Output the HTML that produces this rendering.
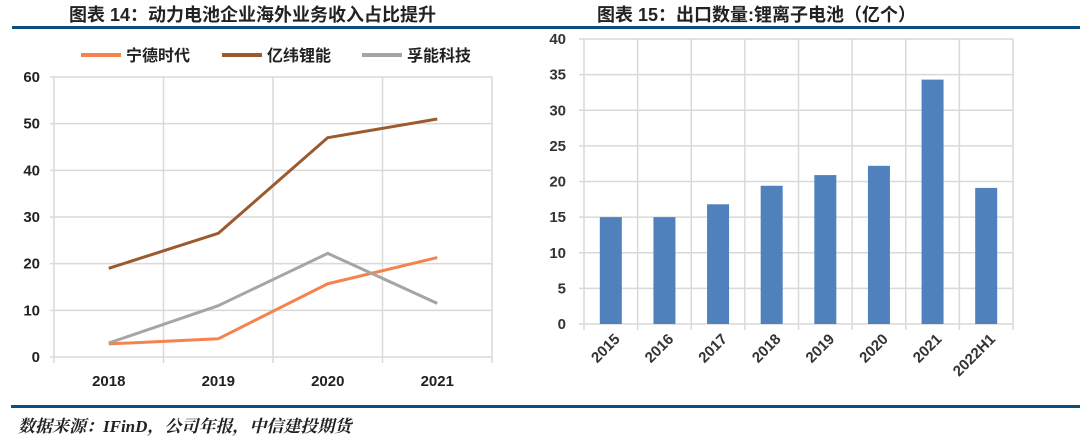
<!DOCTYPE html>
<html><head><meta charset="utf-8"><style>
body{margin:0;background:#fff;}
#root{position:relative;width:1080px;height:436px;overflow:hidden;font-family:"Liberation Sans","Noto Sans CJK SC",sans-serif;}
.t{position:absolute;font-weight:bold;font-size:18px;color:#222;white-space:nowrap;}
</style></head><body>
<div id="root">
<div class="t" style="left:69px;top:1px;">图表 14：动力电池企业海外业务收入占比提升</div>
<div class="t" style="left:597px;top:1px;">图表 15：出口数量:锂离子电池（亿个）</div>
<div style="position:absolute;left:12px;top:26px;width:1068px;height:3px;background:#0b4f7c;"></div>
<div style="position:absolute;left:11px;top:405px;width:1069px;height:3px;background:#0b4f7c;"></div>
<div style="position:absolute;left:18px;top:412px;font-size:17px;font-style:italic;font-weight:bold;color:#222;font-family:'Liberation Serif','Noto Serif CJK SC',serif;">数据来源：IFinD，公司年报，中信建投期货</div>
<svg id="c1" width="540" height="400" style="position:absolute;left:0;top:0;"></svg>
<svg id="c2" width="540" height="400" style="position:absolute;left:540px;top:0;"></svg>
</div>
<script>
const lineCats=["2018","2019","2020","2021"];
const catl=[2.8,3.9,15.7,21.3];
const eve=[19,26.5,47,51];
const farasis=[3,11,22.2,11.5];
const lineTicks=[0,10,20,30,40,50,60];
const seriesNames=["宁德时代","亿纬锂能","孚能科技"];

const barCats=["2015","2016","2017","2018","2019","2020","2021","2022H1"];
const exportVals=[15,15,16.8,19.4,20.9,22.2,34.3,19.1];
const barTicks=[0,5,10,15,20,25,30,35,40];

const NS="http://www.w3.org/2000/svg";
function mk(svg,tag,attrs){const e=document.createElementNS(NS,tag);for(const k in attrs)e.setAttribute(k,attrs[k]);svg.appendChild(e);return e;}

// left chart
(function(){
const svg=document.getElementById('c1');
const x0=54,x1=492,y0=357,yTop=77;
const bw=(x1-x0)/lineCats.length;
const xs=i=>x0+bw*(i+0.5);
const ys=v=>y0-(v/60)*(y0-yTop);
lineTicks.forEach(t=>{
 const g=mk(svg,'line',{x1:x0-4,x2:x1,y1:ys(t),y2:ys(t),stroke:'#d9d9d9','stroke-width':1.5});
 
 
 const l=mk(svg,'text',{x:40,y:ys(t)+5,'text-anchor':'end','font-size':15,'font-weight':'bold',fill:'#222'});
 l.textContent=t;
 
 
});
for(let i=0;i<=lineCats.length;i++){
 const g=mk(svg,'line',{x1:x0+bw*i,x2:x0+bw*i,y1:yTop,y2:y0+6,stroke:'#d9d9d9','stroke-width':1.5});
 
 
}
lineCats.forEach((c,i)=>{
 const l=mk(svg,'text',{x:xs(i),y:386,'text-anchor':'middle','font-size':15,'font-weight':'bold',fill:'#222'});
 l.textContent=c;
 
 
});
const data=[catl,eve,farasis];
const cols=['#f4834f','#9b5b2f','#a5a5a5'];
const keys=['catl-line','eve-line','farasis-line'];
data.forEach((arr,k)=>{
 const p=mk(svg,'polyline',{points:arr.map((v,i)=>xs(i)+','+ys(v)).join(' '),fill:'none',stroke:cols[k],'stroke-width':3,'stroke-linejoin':'round'});
 
 
});
const lx=[81,222,362];
seriesNames.forEach((n,k)=>{
 const l=mk(svg,'line',{x1:lx[k],x2:lx[k]+40,y1:55,y2:55,stroke:cols[k],'stroke-width':4});
 
 
 const t=mk(svg,'text',{x:lx[k]+45,y:61,'font-size':16,'font-weight':'bold',fill:'#222'});
 t.textContent=n;
 
 
});
})();

// right chart
(function(){
const svg=document.getElementById('c2');
const x0=44,x1=473,y0=324,yTop=39;
const bw=(x1-x0)/barCats.length;
const ys=v=>y0-(v/40)*(y0-yTop);
barTicks.forEach(t=>{
 const g=mk(svg,'line',{x1:x0-5,x2:x1,y1:ys(t),y2:ys(t),stroke:'#d9d9d9','stroke-width':1.5});
 
 
 const l=mk(svg,'text',{x:26,y:ys(t)+5,'text-anchor':'end','font-size':15,'font-weight':'bold',fill:'#333'});
 l.textContent=t;
 
 
});
for(let i=0;i<=barCats.length;i++){
 const g=mk(svg,'line',{x1:x0+bw*i,x2:x0+bw*i,y1:yTop,y2:y0+6,stroke:'#d9d9d9','stroke-width':1.5});
 
 
}
exportVals.forEach((v,i)=>{
 const cx=x0+bw*(i+0.5);
 const r=mk(svg,'rect',{x:cx-11,y:ys(v),width:22,height:y0-ys(v),fill:'#4f81bd'});
 
 
 const l=mk(svg,'text',{x:cx+10,y:340,'text-anchor':'end','font-size':15,'font-weight':'bold',fill:'#333',transform:'rotate(-45 '+(cx+10)+' 340)'});
 l.textContent=barCats[i];
 
 
});
})();
</script>
</body></html>
